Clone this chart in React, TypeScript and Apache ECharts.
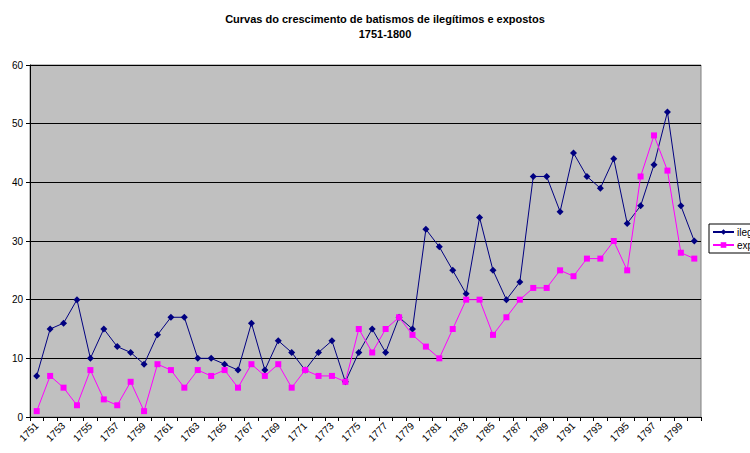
import React, { useEffect, useRef } from "react";
import * as echarts from "echarts";

const years: string[] = [];
for (let y = 1751; y <= 1800; y++) years.push(String(y));

const ilegitimos = [
  7, 15, 16, 20, 10, 15, 12, 11, 9, 14,
  17, 17, 10, 10, 9, 8, 16, 8, 13, 11,
  8, 11, 13, 6, 11, 15, 11, 17, 15, 32,
  29, 25, 21, 34, 25, 20, 23, 41, 41, 35,
  45, 41, 39, 44, 33, 36, 43, 52, 36, 30,
];

const expostos = [
  1, 7, 5, 2, 8, 3, 2, 6, 1, 9,
  8, 5, 8, 7, 8, 5, 9, 7, 9, 5,
  8, 7, 7, 6, 15, 11, 15, 17, 14, 12,
  10, 15, 20, 20, 14, 17, 20, 22, 22, 25,
  24, 27, 27, 30, 25, 41, 48, 42, 28, 27,
];

const FONT = "Arial, 'Liberation Sans', sans-serif";

export default function App() {
  const ref = useRef<HTMLDivElement>(null);
  useEffect(() => {
    if (!ref.current) return;
    const chart = echarts.init(ref.current, null, { renderer: "svg" });
    chart.setOption({
      animation: false,
      backgroundColor: "#ffffff",
      title: {
        text: "Curvas do crescimento de batismos de ilegítimos e expostos\n1751-1800",
        left: 380,
        textAlign: "center",
        top: 6,
        textStyle: {
          fontFamily: FONT,
          fontSize: 11,
          fontWeight: "bold",
          color: "#000",
          lineHeight: 15,
        },
      },
      legend: {
        left: 709,
        top: 224,
        orient: "vertical",
        backgroundColor: "#ffffff",
        borderColor: "#000",
        borderWidth: 1,
        borderRadius: 0,
        padding: [3, 3, 3, 3],
        itemGap: 3,
        itemWidth: 21,
        itemHeight: 7,
        textStyle: { fontFamily: FONT, fontSize: 10, color: "#000", padding: [0, 0, 0, -2] },
        data: ["ilegítimos", "expostos"],
      },
      grid: {
        left: 30,
        right: 49,
        top: 65,
        bottom: 36,
        show: true,
        backgroundColor: "#C0C0C0",
        borderColor: "#808080",
        borderWidth: 1,
      },
      xAxis: {
        type: "category",
        data: years,
        boundaryGap: true,
        axisLine: { lineStyle: { color: "#000", width: 1 } },
        axisTick: { show: true, interval: 0, length: 4, lineStyle: { color: "#000" } },
        axisLabel: {
          interval: 1,
          rotate: 45,
          fontFamily: FONT,
          fontSize: 10,
          color: "#000",
          margin: 7,
        },
        splitLine: { show: false },
      },
      yAxis: {
        type: "value",
        min: 0,
        max: 60,
        interval: 10,
        axisLine: { show: true, lineStyle: { color: "#000", width: 1 } },
        axisTick: { show: true, length: 4, lineStyle: { color: "#000" } },
        axisLabel: { fontFamily: FONT, fontSize: 10, color: "#000", margin: 7 },
        splitLine: { show: true, lineStyle: { color: "#000", width: 1 } },
      },
      series: [
        {
          name: "ilegítimos",
          type: "line",
          data: ilegitimos,
          symbol: "diamond",
          symbolSize: 7,
          itemStyle: { color: "#000080" },
          lineStyle: { color: "#000080", width: 1 },
        },
        {
          name: "expostos",
          type: "line",
          data: expostos,
          symbol: "rect",
          symbolSize: 6,
          itemStyle: { color: "#FF00FF" },
          lineStyle: { color: "#FF00FF", width: 1 },
        },
      ],
    });
    return () => chart.dispose();
  }, []);
  return (
    <div
      ref={ref}
      style={{ position: "fixed", left: 0, top: 0, width: 750, height: 453 }}
    />
  );
}
